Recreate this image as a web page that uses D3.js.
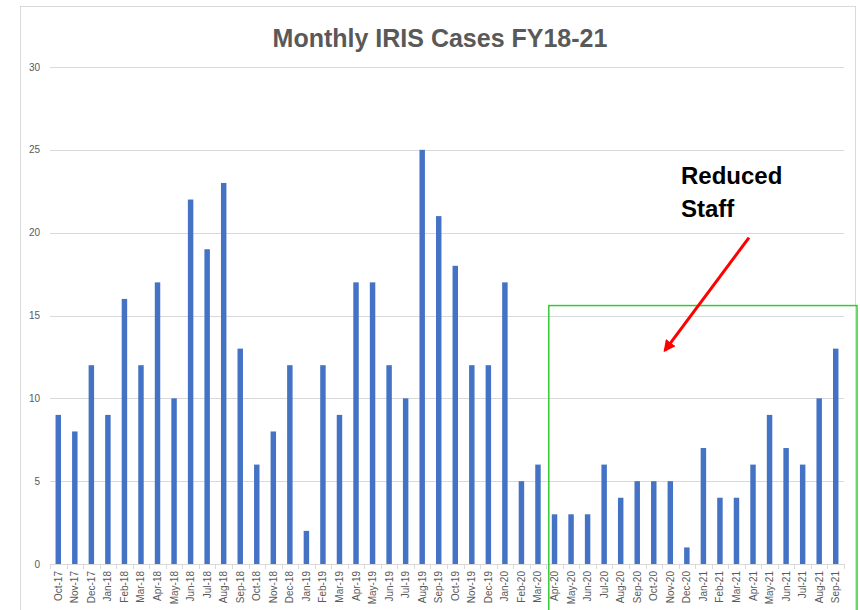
<!DOCTYPE html>
<html>
<head>
<meta charset="utf-8">
<script src="https://cdn.jsdelivr.net/npm/d3@7"></script>
<style>
  html, body { margin: 0; padding: 0; background: #fff; }
  #chart { width: 860px; height: 610px; }
</style>
</head>
<body>
<div id="chart"></div>
<script>
var months = ['Oct-17','Nov-17','Dec-17','Jan-18','Feb-18','Mar-18','Apr-18','May-18','Jun-18','Jul-18','Aug-18','Sep-18',
  'Oct-18','Nov-18','Dec-18','Jan-19','Feb-19','Mar-19','Apr-19','May-19','Jun-19','Jul-19','Aug-19','Sep-19',
  'Oct-19','Nov-19','Dec-19','Jan-20','Feb-20','Mar-20','Apr-20','May-20','Jun-20','Jul-20','Aug-20','Sep-20',
  'Oct-20','Nov-20','Dec-20','Jan-21','Feb-21','Mar-21','Apr-21','May-21','Jun-21','Jul-21','Aug-21','Sep-21'];
var cases = [9, 8, 12, 9, 16, 12, 17, 10, 22, 19, 23, 13,
  6, 8, 12, 2, 12, 9, 17, 17, 12, 10, 25, 21,
  18, 12, 12, 17, 5, 6, 3, 3, 3, 6, 4, 5,
  5, 5, 1, 7, 4, 4, 6, 9, 7, 6, 10, 13];
var yTicks = [0, 5, 10, 15, 20, 25, 30];
var titleText = 'Monthly IRIS Cases FY18-21';
var noteLines = ['Reduced', 'Staff'];

(function() {
  var FONT = '"Liberation Sans", Arial, sans-serif';
  var W = 860, H = 610;
  var pl = 50, pr = 844, pt = 67, pb = 564;

  var svg = d3.select('#chart').append('svg').attr('width', W).attr('height', H);

  // chart frame
  svg.append('rect').attr('x', 20.5).attr('y', 6.5).attr('width', 835).attr('height', 640)
    .attr('fill', 'none').attr('stroke', '#d9d9d9').attr('stroke-width', 1);

  var x = d3.scaleBand().domain(months).range([pl, pr]).paddingInner(0.67).paddingOuter(0.335);
  var y = d3.scaleLinear().domain([0, 30]).range([pb, pt]);

  // gridlines + y labels
  var gy = svg.append('g');
  gy.selectAll('line').data(yTicks.filter(function(d) { return d > 0; })).join('line')
    .attr('x1', pl).attr('x2', pr)
    .attr('y1', function(d) { return Math.round(y(d)) + 0.5; }).attr('y2', function(d) { return Math.round(y(d)) + 0.5; })
    .attr('stroke', '#d9d9d9').attr('stroke-width', 1);
  gy.selectAll('text').data(yTicks).join('text')
    .attr('x', 40).attr('y', function(d) { return y(d); }).attr('dy', '0.35em')
    .attr('text-anchor', 'end').attr('fill', '#595959').attr('font-size', '10px').attr('font-family', FONT)
    .text(function(d) { return d; });

  // bars
  svg.append('g').selectAll('rect').data(cases).join('rect')
    .attr('x', function(d, i) { return x(months[i]); })
    .attr('y', function(d) { return y(d); })
    .attr('width', x.bandwidth())
    .attr('height', function(d) { return y(0) - y(d); })
    .attr('fill', '#4472c4');

  // x axis line, tick marks at category boundaries
  var step = x.step();
  var gx = svg.append('g');
  gx.append('line').attr('x1', pl).attr('x2', pr).attr('y1', pb + 0.5).attr('y2', pb + 0.5)
    .attr('stroke', '#d9d9d9');
  gx.selectAll('line.tk').data(d3.range(months.length + 1)).join('line').attr('class', 'tk')
    .attr('x1', function(i) { return Math.round(pl + i * step) + 0.5; })
    .attr('x2', function(i) { return Math.round(pl + i * step) + 0.5; })
    .attr('y1', pb).attr('y2', pb + 5)
    .attr('stroke', '#d9d9d9');
  gx.selectAll('text').data(months).join('text')
    .attr('transform', function(d) { return 'translate(' + (x(d) + x.bandwidth() / 2 + 3.5) + ',' + (pb + 7) + ') rotate(-90)'; })
    .attr('text-anchor', 'end').attr('fill', '#595959').attr('font-size', '10px').attr('font-family', FONT)
    .text(function(d) { return d; });

  // title
  svg.append('text').attr('x', 440).attr('y', 47).attr('text-anchor', 'middle')
    .attr('fill', '#595959').attr('font-size', '25px').attr('font-weight', 'bold').attr('font-family', FONT)
    .text(titleText);

  // annotation: reduced staff period
  var boxLeft = x('Apr-20') - 3;
  svg.append('rect').attr('x', boxLeft).attr('y', y(15.6)).attr('width', 857 - boxLeft).attr('height', H)
    .attr('fill', 'none').attr('stroke', '#33cc33').attr('stroke-width', 1.5);

  svg.append('defs').append('marker').attr('id', 'arrow')
    .attr('viewBox', '0 0 10 10').attr('refX', 8).attr('refY', 5)
    .attr('markerWidth', 4).attr('markerHeight', 4).attr('orient', 'auto')
    .append('path').attr('d', 'M0,0 L10,5 L0,10 z').attr('fill', '#ff0000');

  svg.append('line')
    .attr('x1', 749).attr('y1', y(19.7))
    .attr('x2', 665).attr('y2', y(12.9))
    .attr('stroke', '#ff0000').attr('stroke-width', 3).attr('marker-end', 'url(#arrow)');

  svg.append('g').selectAll('text').data(noteLines).join('text')
    .attr('x', 681).attr('y', function(d, i) { return 184 + i * 33; })
    .attr('fill', '#000').attr('font-size', '24px').attr('font-weight', 'bold').attr('font-family', FONT)
    .text(function(d) { return d; });
})();
</script>
</body>
</html>
